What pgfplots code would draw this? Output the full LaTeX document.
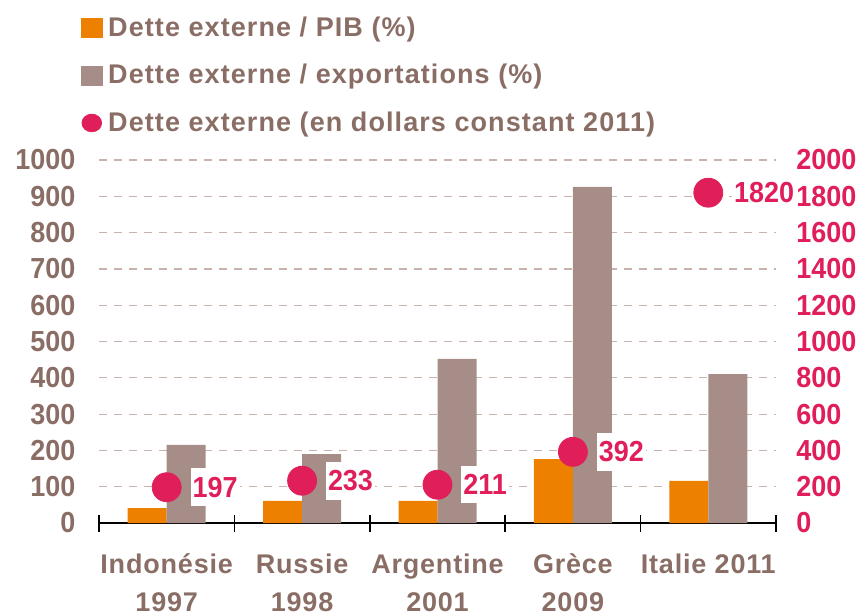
\documentclass[border=0pt]{standalone}
\usepackage{fontspec}
\setmainfont{Liberation Sans}
\newfontfamily\tickfont[FakeStretch=0.93]{Liberation Sans}
\newfontfamily\legfont{Liberation Sans Bold}[LetterSpace=4]
\newfontfamily\catfont{Liberation Sans Bold}[LetterSpace=3]
\usepackage{pgfplots}
\pgfplotsset{compat=1.18}
\definecolor{orangebar}{RGB}{238,128,0}
\definecolor{taupebar}{RGB}{167,141,135}
\definecolor{rose}{RGB}{224,31,90}
\definecolor{brun}{RGB}{138,110,102}
\definecolor{grille}{RGB}{200,178,172}
\pgfplotsset{
  /pgf/number format/1000 sep={},
  /pgf/number format/assume math mode=true,
  commun/.style={
    scale only axis, width=338.5pt, height=181.5pt,
    xmin=-0.5, xmax=4.5, ymin=0,
  }
}
\begin{document}
\begin{tikzpicture}
\path[use as bounding box] (-49.5pt,-46pt) rectangle (383pt,261.5pt);
\begin{axis}[
    commun, ymax=1000,
    ybar=0pt, bar width=19.5pt,
    axis x line*=bottom, axis y line*=left,
    x axis line style={-, black, line width=0.75pt},
    y axis line style={draw=none},
    xtick={0,...,4},
    xticklabels={Indonésie\\1997, Russie\\1998, Argentine\\2001, Grèce\\2009, Italie 2011},
    major x tick style={draw=none},
    minor xtick={-0.5,0.5,...,4.5},
    minor x tick style={black, line width=0.75pt},
    minor tick length=8.5pt,
    tick align=center,
    ytick={0,100,...,900},
    extra y ticks={1000},
    extra y tick style={grid style={gray!12, dash pattern=on 3.75pt off 3.75pt, line width=0.6pt}},
    ytick style={draw=none},
    ymajorgrids,
    major grid style={grille, dash pattern=on 3.75pt off 3.75pt, line width=0.6pt},
    yticklabel style={font=\tickfont\bfseries\fontsize{14.5}{17}\selectfont,
      text=brun, anchor=east, inner sep=0pt, xshift=-9.5pt},
    xticklabel style={font=\catfont\fontsize{13.5}{19}\selectfont,
      text=brun, align=center, anchor=north, inner sep=0pt, yshift=-13.25pt},
  ]
  % Dette externe / PIB (%)
  \addplot[fill=orangebar, draw=none] coordinates {
    (0,41) (1,61) (2,61) (3,176) (4,116)
  };
  % Dette externe / exportations (%)
  \addplot[fill=taupebar, draw=none] coordinates {
    (0,215) (1,190) (2,452) (3,926) (4,410)
  };
\end{axis}
\begin{axis}[
    commun, ymax=2000,
    axis x line=none, axis y line*=right,
    y axis line style={draw=none},
    ytick={0,200,...,2000},
    ytick style={draw=none},
    yticklabel style={font=\tickfont\bfseries\fontsize{14.5}{17}\selectfont,
      text=rose, anchor=west, inner sep=0pt, xshift=10pt},
    clip=false,
    legend style={at={(axis description cs:-0.0266,1.3937)}, anchor=north west,
      draw=none, fill=none, inner sep=0pt, row sep=10.75pt, column sep=2.5pt,
      font=\legfont\fontsize{13.5}{15}\selectfont, text=brun,
      nodes={inner sep=0pt, text height=9.5pt, text depth=3.5pt}},
    legend cell align=left,
  ]
  \addlegendimage{legend image code/.code={\fill[orangebar] (0pt,-3.5pt) rectangle (10.5pt,6pt);}}
  \addlegendentry{Dette externe / PIB (\%)}
  \addlegendimage{legend image code/.code={\fill[taupebar] (0pt,-3.5pt) rectangle (10.5pt,6pt);}}
  \addlegendentry{Dette externe / exportations (\%)}
  % Dette externe (en dollars constant 2011)
  \addplot[only marks, mark=*, mark size=7.25pt, color=rose,
    nodes near coords,
    nodes near coords style={anchor=west, xshift=11.75pt, fill=white,
      inner xsep=1pt, inner ysep=4.3pt, text=rose,
      font=\tickfont\bfseries\fontsize{14.5}{17}\selectfont},
    legend image code/.code={\fill[rose] (5pt,1.25pt) ellipse [x radius=4.9pt, y radius=4.4pt];}]
    coordinates {(0,197) (1,233) (2,211) (3,392) (4,1820)};
  \addlegendentry{Dette externe (en dollars constant 2011)}
\end{axis}
\end{tikzpicture}
\end{document}
